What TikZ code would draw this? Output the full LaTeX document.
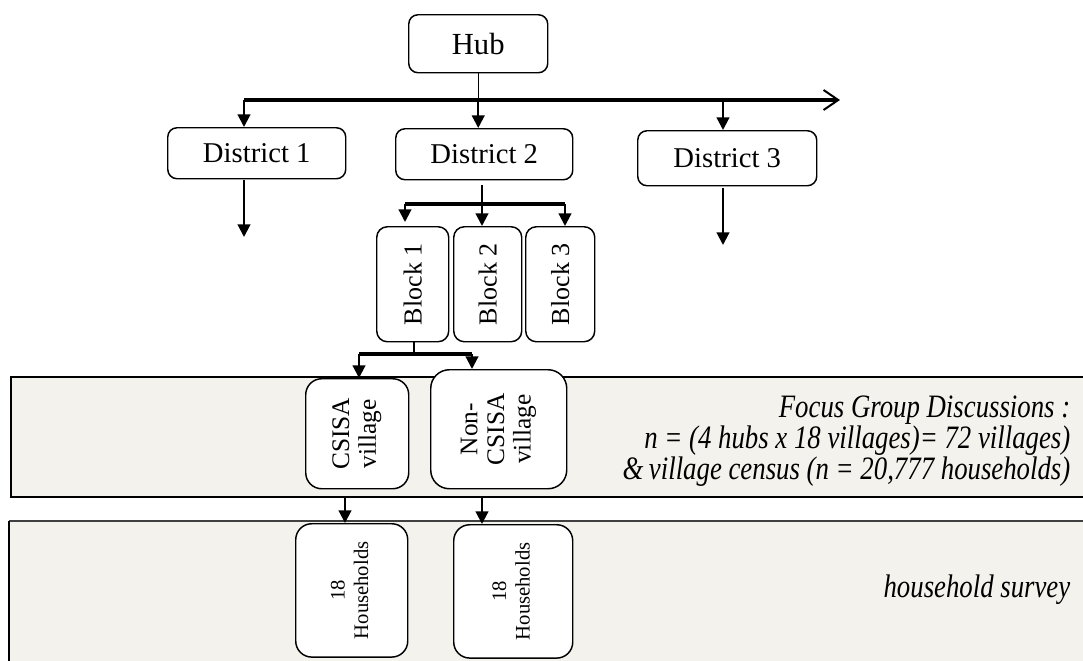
\documentclass[tikz,border=0pt]{standalone}
\usepackage{fontspec}
\setmainfont{Liberation Serif}
\newfontfamily\labfont[FakeStretch=0.82]{Liberation Serif}
\usetikzlibrary{arrows.meta}
\definecolor{bandfill}{RGB}{243,242,236}
\begin{document}
\begin{tikzpicture}[x=0.75pt,y=-0.75pt,
  box/.style={draw,line width=1.1pt,fill=white,inner sep=0pt,anchor=north west},
  dbox/.style={box,rounded corners=7pt,font=\fontsize{21.5}{24}\selectfont},
  bbox/.style={box,rounded corners=8pt,font=\fontsize{19.5}{22}\selectfont},
  vbox/.style={box,rounded corners=12pt,font=\fontsize{19}{20}\selectfont},
  hbox/.style={box,rounded corners=12pt,font=\fontsize{15.5}{17.5}\selectfont},
  arr/.style={line width=1.6pt,-{Triangle[length=9.5pt,width=9.5pt]}},
  bar/.style={line width=2.6pt},
  thin/.style={line width=1pt},
  lab/.style={anchor=east,align=right,font=\labfont\itshape\fontsize{24.5}{23.5}\selectfont},
  bandline/.style={line width=2pt}
]
\useasboundingbox (0,0) rectangle (1083,661);
% bands
\fill[bandfill] (11,377) rectangle (1083,497);
\draw[bandline] (1083,377) -- (11,377) -- (11,497) -- (1083,497);
\fill[bandfill] (9,521) rectangle (1083,661);
\draw[line width=1.3pt,black!75] (1083,521) -- (9,521);
\draw[bandline] (9,521) -- (9,661);
% nodes
\node[dbox,minimum width=104.25pt,minimum height=43.5pt,font=\fontsize{23}{25}\selectfont] (hub) at (408,14) {Hub};
\node[dbox,minimum width=133.5pt,minimum height=38.25pt] (d1) at (167,127) {District 1};
\node[dbox,minimum width=132.75pt,minimum height=38.25pt] (d2) at (395,128) {District 2};
\node[dbox,minimum width=134.25pt,minimum height=41.25pt] (d3) at (637,130) {District 3};
\node[bbox,minimum width=54pt,minimum height=86.25pt] (b1) at (376,226) {\rotatebox{90}{Block 1}};
\node[bbox,minimum width=51pt,minimum height=86.25pt] (b2) at (453,226) {\rotatebox{90}{Block 2}};
\node[bbox,minimum width=51.75pt,minimum height=86.25pt] (b3) at (525,226) {\rotatebox{90}{Block 3}};
\node[vbox,minimum width=77.25pt,minimum height=82.5pt] (v1) at (305,378) {\rotatebox{90}{\begin{tabular}{@{}c@{}}CSISA\\village\end{tabular}}};
\node[vbox,rounded corners=14pt,minimum width=102pt,minimum height=89.25pt] (v2) at (430,369) {\rotatebox{90}{\begin{tabular}{@{}c@{}}Non-\\CSISA\\village\end{tabular}}};
\node[hbox,minimum width=84pt,minimum height=100pt] (h1) at (295,523) {\rotatebox{90}{\begin{tabular}{@{}c@{}}18\\Households\end{tabular}}};
\node[hbox,minimum width=89.25pt,minimum height=100pt] (h2) at (453,524) {\rotatebox{90}{\begin{tabular}{@{}c@{}}18\\Households\end{tabular}}};
% labels
\node[lab] (fgd) at (1075,441) {Focus Group Discussions :\\n = (4 hubs x 18 villages)= 72 villages)\\\&\,village census (n = 20,777 households)};
\node[lab] (hs) at (1075,590) {household survey};
% coordinates
\coordinate (barL) at (244,100);
\coordinate (barR) at (840,100);
\coordinate (hubj) at (hub.south |- barL);
\coordinate (x3) at (723,100);
\coordinate (d1s) at (244,180);
\coordinate (d1e) at (244,237);
\coordinate (d3s) at (723,188);
\coordinate (d3e) at (723,245);
\coordinate (d2s) at (482,185);
\coordinate (bbL) at (405,204);
\coordinate (bbR) at (565,204);
\coordinate (b1s) at (414,341);
\coordinate (vbL) at (359,354);
\coordinate (vbR) at (472,354);
\coordinate (a1) at (345,497);
\coordinate (a2) at (482,497);
% connectors
\draw[thin] (hub.south) -- (hubj);
\draw[bar,-{Straight Barb[length=11pt,width=15pt,line width=1.5pt]}] (barL) -- (barR);
\draw[arr] (barL) -- (barL |- d1.north);
\draw[arr] (hubj) -- (hubj |- d2.north);
\draw[arr] (x3) -- (x3 |- d3.north);
\draw[arr] (d1s) -- (d1e);
\draw[arr] (d3s) -- (d3e);
\draw[line width=2.2pt] (d2s) -- (d2s |- bbL);
\draw[line width=3pt] (bbL) -- (bbR);
\draw[arr] (bbL) -- ([yshift=3pt]bbL |- b1.north);
\draw[arr] (d2s |- bbL) -- (d2s |- b2.north);
\draw[arr] (bbR) -- (bbR |- b3.north);
\draw[thin] (b1s) -- (b1s |- vbL);
\draw[line width=3pt] (vbL) -- (vbR);
\draw[arr] (vbL) -- (vbL |- v1.north);
\draw[arr] (vbR) -- (vbR |- v2.north);
\draw[arr] (a1) -- (a1 |- h1.north);
\draw[arr] (a2) -- (a2 |- h2.north);
\end{tikzpicture}
\end{document}
